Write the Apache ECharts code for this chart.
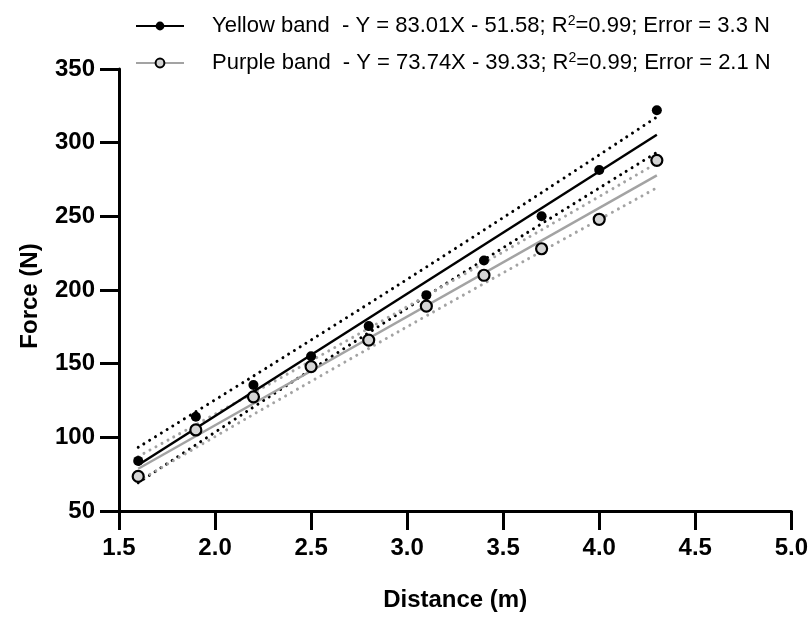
<!DOCTYPE html>
<html>
<head>
<meta charset="utf-8">
<script src="https://cdn.jsdelivr.net/npm/echarts@6/dist/echarts.min.js"></script>
<style>html,body{margin:0;padding:0;background:#fff}#c{width:811px;height:617px}</style>
</head>
<body>
<div id="c"></div>
<script>
// Measured data
var distances = [1.6, 1.9, 2.2, 2.5, 2.8, 3.1, 3.4, 3.7, 4.0, 4.3];
var yellowForce = [84, 114, 135.5, 155, 175.5, 196.5, 220, 250, 281.5, 322];
var purpleForce = [73.5, 105, 127.5, 148, 166, 189, 210, 228, 248, 288];

// Fit lines (read at ends)
var fitX = [1.6, 4.3];
var yellowFit = [81.2, 305.4];
var purpleFit = [78.7, 277.8];

// Confidence bands
var bandX = [1.6, 2.275, 2.95, 3.625, 4.3];
var yellowUpper = [93.2, 147.7, 203.1, 259.7, 317.4];
var yellowLower = [69.2, 126.9, 183.5, 238.9, 293.4];
var purpleUpper = [87.0, 135.6, 185.0, 235.2, 286.1];
var purpleLower = [70.3, 121.2, 171.4, 220.8, 269.4];

var xTicks = [1.5, 2.0, 2.5, 3.0, 3.5, 4.0, 4.5, 5.0];
var yTicks = [50, 100, 150, 200, 250, 300, 350];

var legendNames = ['Yellow band', 'Purple band'];
var legendText = {
  'Yellow band': 'Yellow band  - Y = 83.01X - 51.58; R{sup|2}=0.99; Error = 3.3 N',
  'Purple band': 'Purple band  - Y = 73.74X - 39.33; R{sup|2}=0.99; Error = 2.1 N'
};

function pairs(xs, ys) { return xs.map(function (x, i) { return [x, ys[i]]; }); }

var FONT = '"Liberation Sans", Arial, sans-serif';
var GRAY = '#a3a3a3';
var dots = [0.01, 6.8];

function band(name, xs, ys, color) {
  return {
    name: name, type: 'line', data: pairs(xs, ys), smooth: 0.3,
    showSymbol: false, symbol: 'none', silent: true, z: 2,
    lineStyle: { color: color, width: 3, type: dots, cap: 'round' }
  };
}

var chart = echarts.init(document.getElementById('c'), null, { renderer: 'canvas' });
chart.setOption({
  animation: false,
  backgroundColor: '#fff',
  grid: { left: 119, right: 16, top: 69, bottom: 98, containLabel: false },
  legend: {
    data: legendNames,
    orient: 'vertical',
    left: 130, top: 9,
    itemWidth: 48, itemHeight: 11, itemGap: 13,
    selectedMode: false,
    formatter: function (n) { return '{gap|}' + legendText[n]; },
    textStyle: {
      fontFamily: FONT, fontSize: 22, color: '#000', lineHeight: 24,
      rich: {
        gap: { width: 23 },
        sup: { fontSize: 14, verticalAlign: 'top', lineHeight: 14, padding: [0, 0, 10, 0], fontFamily: FONT, color: '#000' }
      }
    }
  },
  xAxis: {
    type: 'value', min: 1.5, max: 5.0, interval: 0.5,
    name: 'Distance (m)', nameLocation: 'middle', nameGap: 77,
    nameTextStyle: { fontFamily: FONT, fontSize: 24, fontWeight: 'bold', color: '#000' },
    axisLine: { show: true, onZero: false, lineStyle: { color: '#000', width: 3 } },
    axisTick: { show: true, inside: false, length: 19, lineStyle: { color: '#000', width: 3 } },
    axisLabel: { margin: 25, fontFamily: FONT, fontSize: 24, fontWeight: 'bold', color: '#000',
      formatter: function (v) { return v.toFixed(1); } },
    splitLine: { show: false }
  },
  yAxis: {
    type: 'value', min: 50, max: 350, interval: 50,
    name: 'Force (N)', nameLocation: 'middle', nameGap: 77, nameRotate: 90,
    nameTextStyle: { fontFamily: FONT, fontSize: 24, fontWeight: 'bold', color: '#000', padding: [0, 12, 0, 0] },
    axisLine: { show: true, onZero: false, lineStyle: { color: '#000', width: 3 } },
    axisTick: { show: true, inside: false, length: 19, lineStyle: { color: '#000', width: 3 } },
    axisLabel: { margin: 24, fontFamily: FONT, fontSize: 24, fontWeight: 'bold', color: '#000' },
    splitLine: { show: false }
  },
  series: [
    band('yu', bandX, yellowUpper, '#000'),
    band('yl', bandX, yellowLower, '#000'),
    band('pu', bandX, purpleUpper, GRAY),
    band('pl', bandX, purpleLower, GRAY),
    {
      name: 'Purple band', type: 'line', data: pairs(fitX, purpleFit),
      symbol: 'circle', showSymbol: false, symbolSize: 10, z: 3, silent: true,
      lineStyle: { color: GRAY, width: 2.5 },
      itemStyle: { color: '#d4d4d4', borderColor: '#000', borderWidth: 2 }
    },
    {
      name: 'Yellow band', type: 'line', data: pairs(fitX, yellowFit),
      symbol: 'circle', showSymbol: false, symbolSize: 10, z: 3, silent: true,
      lineStyle: { color: '#000', width: 2.5 },
      itemStyle: { color: '#000', borderColor: '#000', borderWidth: 0 }
    },
    {
      name: 'ypts', type: 'scatter', data: pairs(distances, yellowForce),
      symbol: 'circle', symbolSize: 10, z: 5,
      itemStyle: { color: '#000', opacity: 1 }
    },
    {
      name: 'ppts', type: 'scatter', data: pairs(distances, purpleForce),
      symbol: 'circle', symbolSize: 11, z: 6,
      itemStyle: { color: '#d4d4d4', borderColor: '#000', borderWidth: 2.2, opacity: 1 }
    }
  ]
});
</script>
</body>
</html>
